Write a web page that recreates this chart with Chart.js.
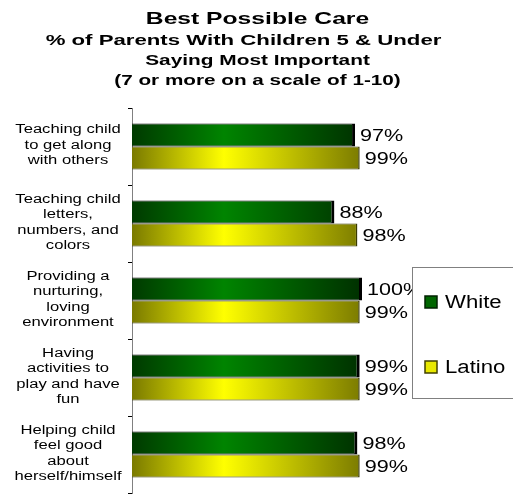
<!DOCTYPE html>
<html>
<head>
<meta charset="utf-8">
<script src="https://cdn.jsdelivr.net/npm/chart.js@4"></script>
<style>
  html, body { margin: 0; padding: 0; background: #fff; }
  #wrap { width: 513px; height: 494px; }
</style>
</head>
<body>
<div id="wrap"><canvas id="care"></canvas></div>
<script>
// Best Possible Care - data
const categories = [
  ["Teaching child", "to get along", "with others"],
  ["Teaching child", "letters,", "numbers, and", "colors"],
  ["Providing a", "nurturing,", "loving", "environment"],
  ["Having", "activities to", "play and have", "fun"],
  ["Helping child", "feel good", "about", "herself/himself"]
];
const whiteValues = [97, 88, 100, 99, 98];
const latinoValues = [99, 98, 99, 99, 99];
const seriesNames = ["White", "Latino"];
const titleLines = [
  "Best Possible Care",
  "% of Parents With Children 5 & Under",
  "Saying Most Important",
  "(7 or more on a scale of 1-10)"
];

const FONT = "'Liberation Sans', Arial, sans-serif";

// the original picture is stretched sideways, so text gets a horizontal scale
function wideText(ctx, text, x, y, align, sx) {
  ctx.save();
  ctx.translate(x, y);
  ctx.scale(sx, 1);
  ctx.textAlign = align;
  ctx.fillText(text, 0, 0);
  ctx.restore();
}

function barGradient(chart, stops) {
  const area = chart.chartArea;
  if (!area) return stops[1];
  const g = chart.ctx.createLinearGradient(area.left, 0, area.right, 0);
  g.addColorStop(0, stops[0]);
  g.addColorStop(0.4, stops[1]);
  g.addColorStop(1, stops[2]);
  return g;
}

const titles = {
  id: "titles",
  afterDraw(chart) {
    const ctx = chart.ctx;
    const cx = chart.width / 2 + 1;
    ctx.save();
    ctx.fillStyle = "#000";
    ctx.textBaseline = "middle";
    ctx.font = "bold 17px " + FONT;
    wideText(ctx, titleLines[0], cx, 19, "center", 1.45);
    ctx.font = "bold 15px " + FONT;
    wideText(ctx, titleLines[1], cx - 14, 41, "center", 1.48);
    wideText(ctx, titleLines[2], cx, 61, "center", 1.39);
    wideText(ctx, titleLines[3], cx, 81, "center", 1.38);
    ctx.restore();
  }
};

const categoryLabels = {
  id: "categoryLabels",
  afterDraw(chart) {
    const ctx = chart.ctx;
    const scale = chart.scales.y;
    const x = chart.chartArea.left - 64;
    ctx.save();
    ctx.fillStyle = "#000";
    ctx.textBaseline = "middle";
    ctx.font = "12.5px " + FONT;
    categories.forEach(function(lines, i) {
      const cy = scale.getPixelForValue(i) - 1;
      const top = cy - (lines.length - 1) * 15.5 / 2;
      lines.forEach(function(line, k) {
        wideText(ctx, line, x, top + k * 15.5, "center", 1.33);
      });
    });
    ctx.restore();
  }
};

const valueLabels = {
  id: "valueLabels",
  afterDatasetsDraw(chart) {
    const ctx = chart.ctx;
    ctx.save();
    ctx.font = "17px " + FONT;
    ctx.fillStyle = "#000";
    ctx.textBaseline = "middle";
    chart.data.datasets.forEach(function(ds, i) {
      chart.getDatasetMeta(i).data.forEach(function(bar, j) {
        wideText(ctx, ds.data[j] + "%", bar.x + 5, bar.y + 1, "left", 1.27);
      });
    });
    ctx.restore();
  }
};

const boxLegend = {
  id: "boxLegend",
  afterDraw(chart) {
    const ctx = chart.ctx;
    const x = chart.chartArea.right + 50;
    const y = 267;
    ctx.save();
    ctx.fillStyle = "#fff";
    ctx.fillRect(x, y, 120, 131);
    ctx.strokeStyle = "#808080";
    ctx.lineWidth = 1;
    ctx.strokeRect(x + 0.5, y + 0.5, 120, 131);
    const swatches = [["#006600", "#002200"], ["#e8e800", "#404000"]];
    ctx.font = "18px " + FONT;
    ctx.textBaseline = "middle";
    seriesNames.forEach(function(name, i) {
      const sy = y + 35 + i * 65;
      ctx.fillStyle = swatches[i][0];
      ctx.fillRect(x + 13, sy - 6, 12, 12);
      ctx.strokeStyle = swatches[i][1];
      ctx.lineWidth = 1.5;
      ctx.strokeRect(x + 13, sy - 6, 12, 12);
      ctx.fillStyle = "#000";
      wideText(ctx, name, x + 33, sy + 1, "left", 1.23);
    });
    ctx.restore();
  }
};

const data = {
  labels: categories.map(function(c) { return c.join(" "); }),
  datasets: [
    {
      label: seriesNames[0],
      data: whiteValues,
      backgroundColor: function(c) { return barGradient(c.chart, ["#003a00", "#008400", "#003000"]); },
      borderColor: "#000",
      borderWidth: { top: 1, bottom: 1, left: 0, right: 3 },
      borderSkipped: false
    },
    {
      label: seriesNames[1],
      data: latinoValues,
      backgroundColor: function(c) { return barGradient(c.chart, ["#7a7a00", "#ffff00", "#7a7a00"]); },
      borderColor: "#3a3a00",
      borderWidth: { top: 1, bottom: 1, left: 0, right: 1.5 },
      borderSkipped: false
    }
  ]
};

const options = {
  indexAxis: "y",
  responsive: true,
  maintainAspectRatio: false,
  animation: false,
  layout: {
    padding: { left: 0, right: 151, top: 108, bottom: 1 }
  },
  datasets: {
    bar: { categoryPercentage: 0.6, barPercentage: 1 }
  },
  scales: {
    x: {
      display: false,
      min: 0,
      max: 100
    },
    y: {
      afterFit: function(scale) {
        scale.width = 132;
        scale.paddingTop = 0;
        scale.paddingBottom = 0;
      },
      border: { display: true, color: "#808080", width: 1 },
      grid: {
        offset: true,
        drawOnChartArea: false,
        drawTicks: true,
        tickLength: 4,
        color: "#000"
      },
      ticks: { display: false }
    }
  },
  plugins: {
    legend: { display: false },
    tooltip: { enabled: false },
    title: { display: false }
  }
};

const ctx = document.getElementById("care").getContext("2d");
new Chart(ctx, {
  type: "bar",
  data: data,
  options: options,
  plugins: [titles, categoryLabels, valueLabels, boxLegend]
});
</script>
</body>
</html>
